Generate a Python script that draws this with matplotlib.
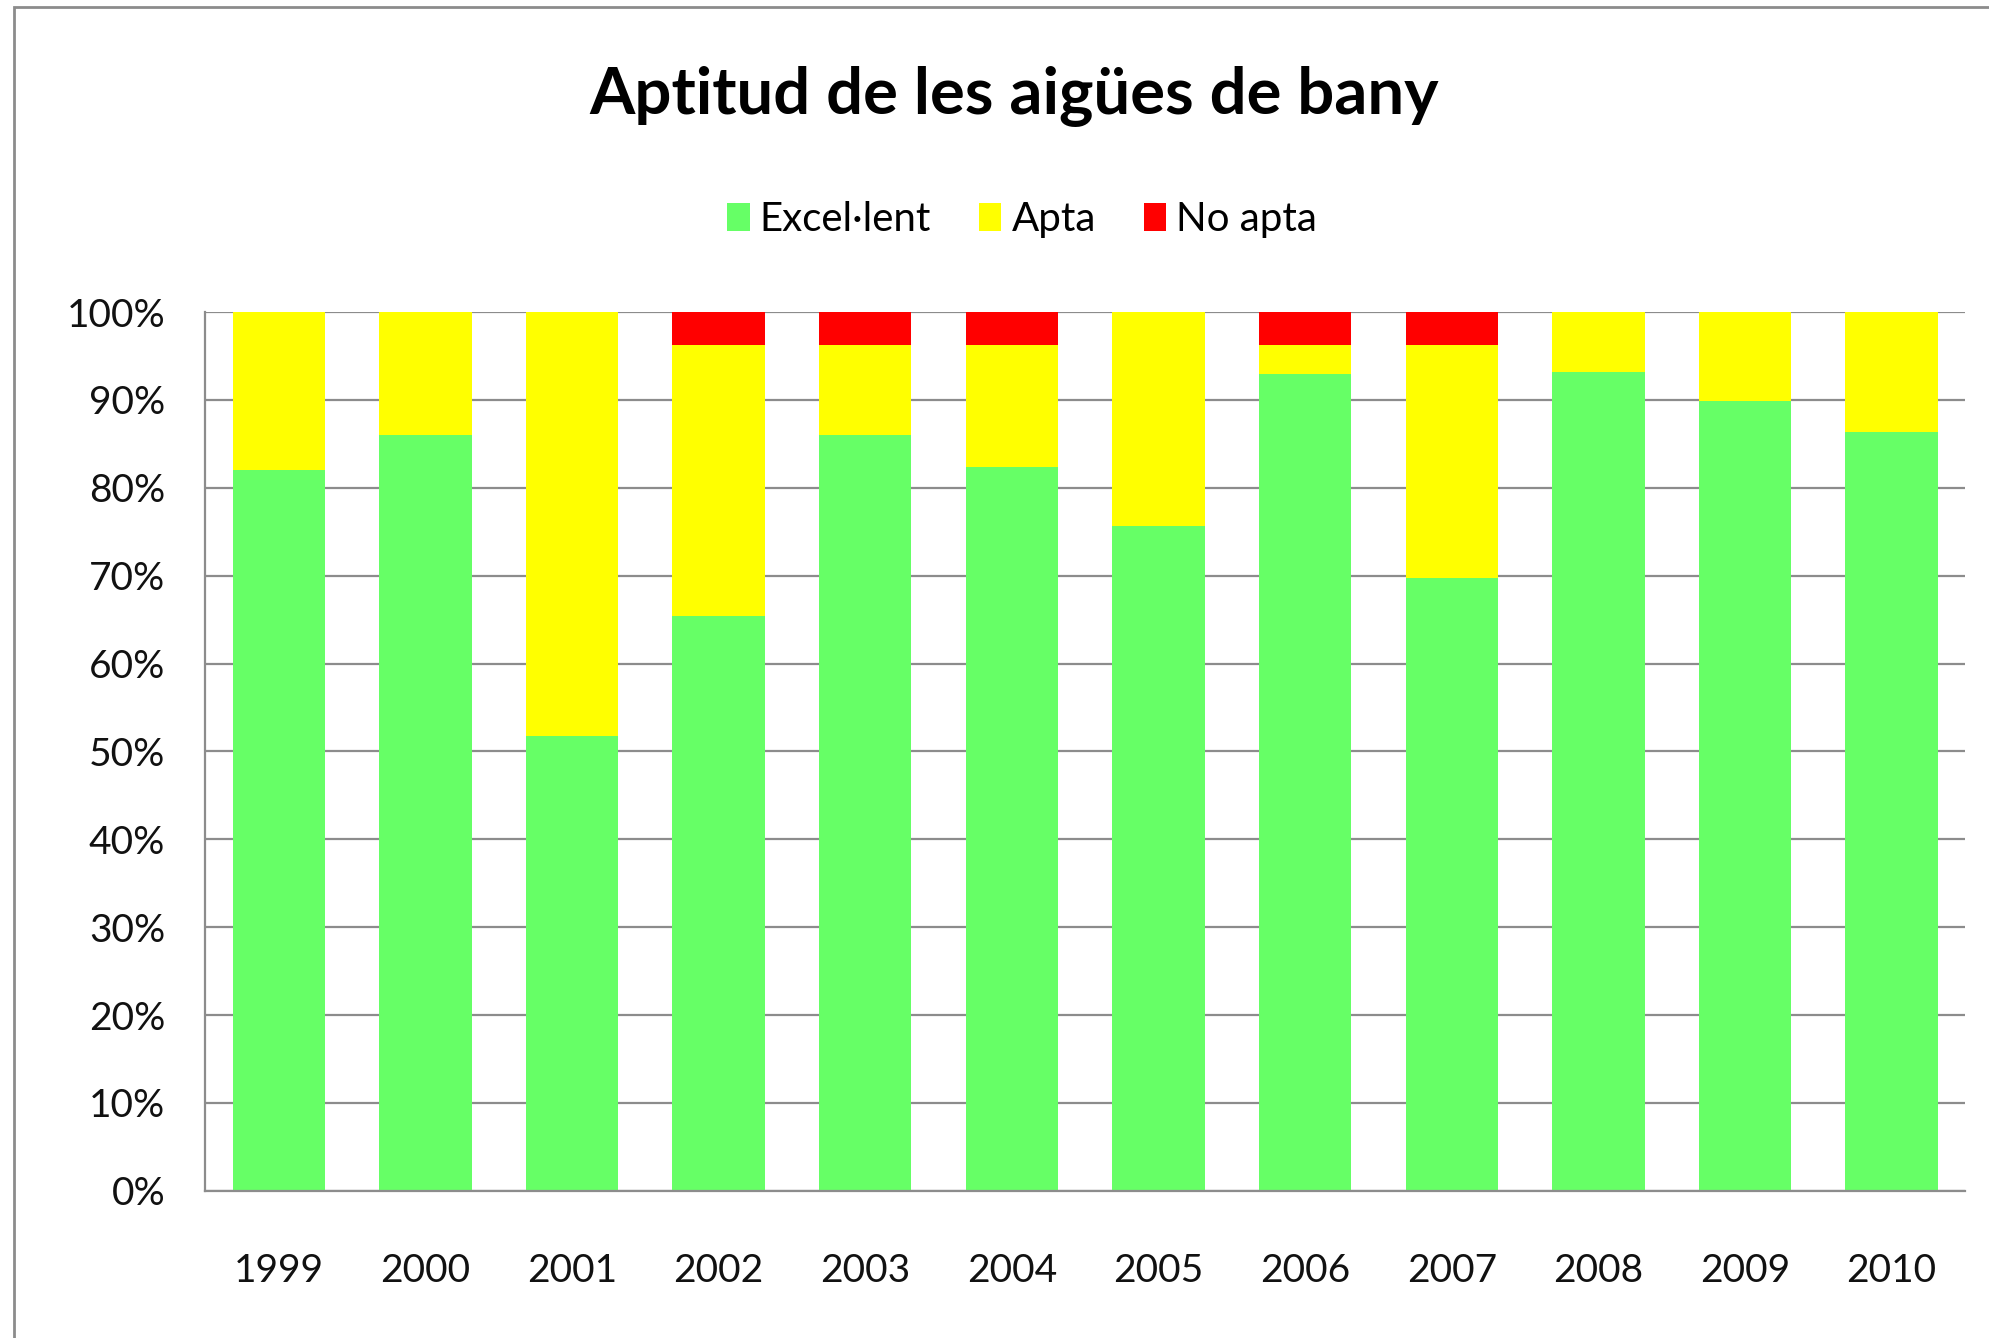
import matplotlib.pyplot as plt
import numpy as np
from matplotlib.patches import Rectangle
from matplotlib.ticker import PercentFormatter

years = ['1999', '2000', '2001', '2002', '2003', '2004',
         '2005', '2006', '2007', '2008', '2009', '2010']
excellent = [82.0, 86.0, 51.7, 65.4, 86.0, 82.4, 75.6, 92.9, 69.7, 93.2, 89.9, 86.3]
no_apta = [0, 0, 0, 3.7, 3.7, 3.7, 0, 3.7, 3.7, 0, 0, 0]
apta = [100 - e - n for e, n in zip(excellent, no_apta)]

plt.rcParams['font.family'] = ['Lato', 'DejaVu Sans']

fig = plt.figure(figsize=(19.89, 13.38), dpi=100)
ax = fig.add_axes([0.1033, 0.110, 0.8846, 0.6568])

x = np.arange(len(years))
w = 0.63
exc = np.array(excellent)
ap = np.array(apta)
ax.bar(x, exc, w, color='#66FF66', label='Excel·lent', zorder=2)
ax.bar(x, ap, w, bottom=exc, color='#FFFF00', label='Apta', zorder=2)
ax.bar(x, no_apta, w, bottom=exc + ap, color='#FF0000', label='No apta', zorder=2)

ax.set_xlim(-0.5, len(years) - 0.5)
ax.set_ylim(0, 100)
ax.set_yticks(np.arange(0, 101, 10))
ax.yaxis.set_major_formatter(PercentFormatter(decimals=0))
ax.set_xticks(x)
ax.set_xticklabels(years)
ax.tick_params(axis='both', length=0, labelsize=28, colors='#111111')
ax.tick_params(axis='x', pad=45)
ax.tick_params(axis='y', pad=29)
ax.yaxis.grid(True, color='#8c8c8c', linewidth=1.6, zorder=0)
ax.set_axisbelow(True)
for s in ['top', 'right']:
    ax.spines[s].set_visible(False)
for s in ['left', 'bottom']:
    ax.spines[s].set_color('#8c8c8c')
    ax.spines[s].set_linewidth(1.6)

fig.text(0.51, 0.928, 'Aptitud de les aigües de bany', ha='center', va='center',
         fontsize=47, fontweight='bold')
fig.legend(loc='center', bbox_to_anchor=(0.514, 0.836), ncol=3, frameon=False,
           fontsize=29, handlelength=0.55, handleheight=0.7, handletextpad=0.25,
           columnspacing=1.2)

fig.patches.append(Rectangle((0.007, -0.05), 1.1, 1.045, transform=fig.transFigure,
                             fill=False, edgecolor='#8c8c8c', linewidth=2))

fig.savefig('out.png', dpi=100, facecolor='white')
